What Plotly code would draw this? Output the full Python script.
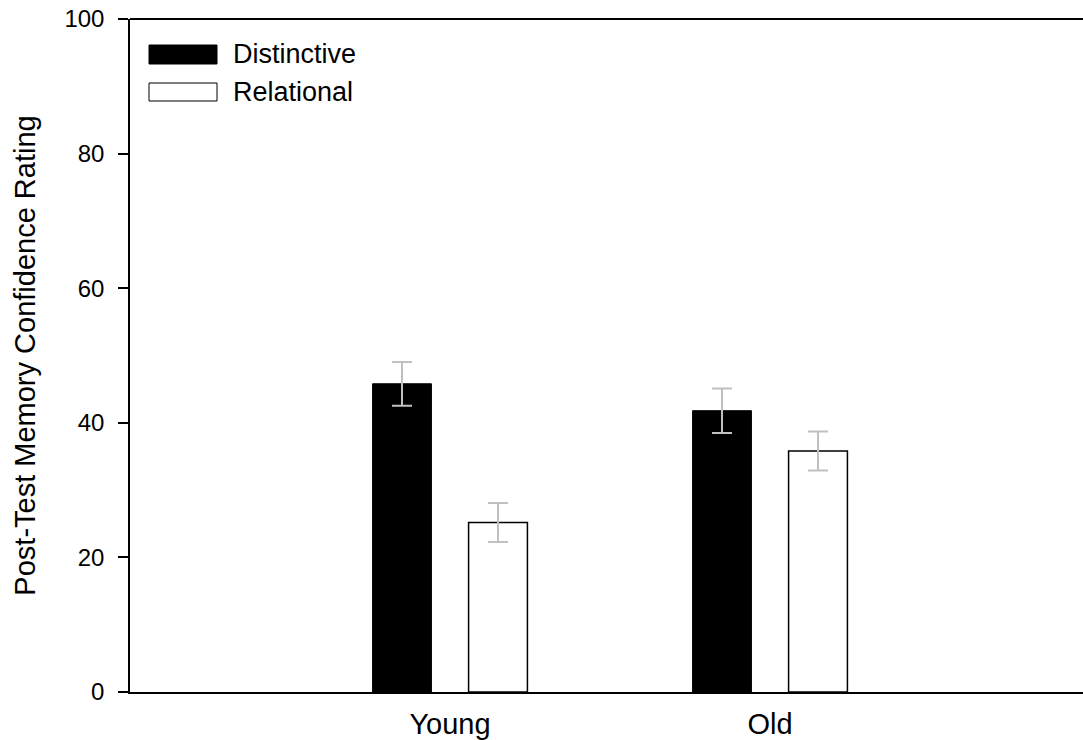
import plotly.graph_objects as go

groups = ["Young", "Old"]
distinctive = [45.8, 41.8]
distinctive_se = [3.25, 3.3]
relational = [25.2, 35.8]
relational_se = [2.9, 2.9]
y_ticks = [0, 20, 40, 60, 80, 100]

FONT = "Liberation Sans, Arial, sans-serif"

FIG_W, FIG_H = 1083, 740
L, T = 130, 19
B = FIG_H - 692
W = FIG_W - L
H = FIG_H - T - B

fig = go.Figure()
fig.add_trace(go.Bar(
    name="Distinctive", x=groups, y=distinctive,
    marker=dict(color="black", line=dict(color="black", width=1)),
    error_y=dict(type="data", array=distinctive_se, color="#c0c0c0", thickness=2, width=10),
    showlegend=False,
))
fig.add_trace(go.Bar(
    name="Relational", x=groups, y=relational,
    marker=dict(color="white", line=dict(color="black", width=1.5)),
    error_y=dict(type="data", array=relational_se, color="#c0c0c0", thickness=2, width=10),
    showlegend=False,
))

# Custom legend (wide swatches like the reference); page pixel -> paper coords
def px(x):
    return (x - L) / W
def py(y):
    return (T + H - y) / H

fig.add_shape(type="rect", xref="paper", yref="paper",
              x0=px(149), x1=px(217), y0=py(64), y1=py(45),
              fillcolor="black", line=dict(color="black", width=1))
fig.add_shape(type="rect", xref="paper", yref="paper",
              x0=px(149), x1=px(217), y0=py(101), y1=py(83),
              fillcolor="white", line=dict(color="black", width=1))
fig.add_annotation(xref="paper", yref="paper", x=px(231), y=py(54), text="Distinctive",
                   showarrow=False, xanchor="left", yanchor="middle",
                   font=dict(family=FONT, size=27, color="black"))
fig.add_annotation(xref="paper", yref="paper", x=px(231), y=py(92), text="Relational",
                   showarrow=False, xanchor="left", yanchor="middle",
                   font=dict(family=FONT, size=27, color="black"))

# Top frame line (no right edge in the reference)
fig.add_shape(type="line", xref="paper", yref="paper", x0=0, x1=1, y0=1, y1=1,
              line=dict(color="black", width=2))

fig.update_layout(
    width=FIG_W, height=FIG_H,
    margin=dict(l=L, r=0, t=T, b=B),
    paper_bgcolor="white", plot_bgcolor="white",
    barmode="group", bargap=0.4, bargroupgap=0.387,
    font=dict(family=FONT, color="black"),
)
fig.update_xaxes(
    range=[-1, -1 + W / 320], showline=True, linecolor="black", linewidth=2,
    ticks="", showgrid=False, zeroline=False, ticklabelstandoff=5,
    tickfont=dict(family=FONT, size=29, color="black"),
)
fig.update_yaxes(
    range=[0, 100], tickvals=y_ticks, showline=True, linecolor="black", linewidth=1.5,
    ticks="outside", ticklen=10, tickwidth=1.5, tickcolor="black",
    showgrid=False, zeroline=False, ticklabelstandoff=9,
    tickfont=dict(family=FONT, size=24, color="black"),
    title=dict(text="Post-Test Memory Confidence Rating", standoff=20,
               font=dict(family=FONT, size=29, color="black")),
)

fig.write_html(
    "out.html",
    config={"displayModeBar": False},
    post_script="document.body.style.margin='0px';document.body.style.overflow='hidden';",
)
